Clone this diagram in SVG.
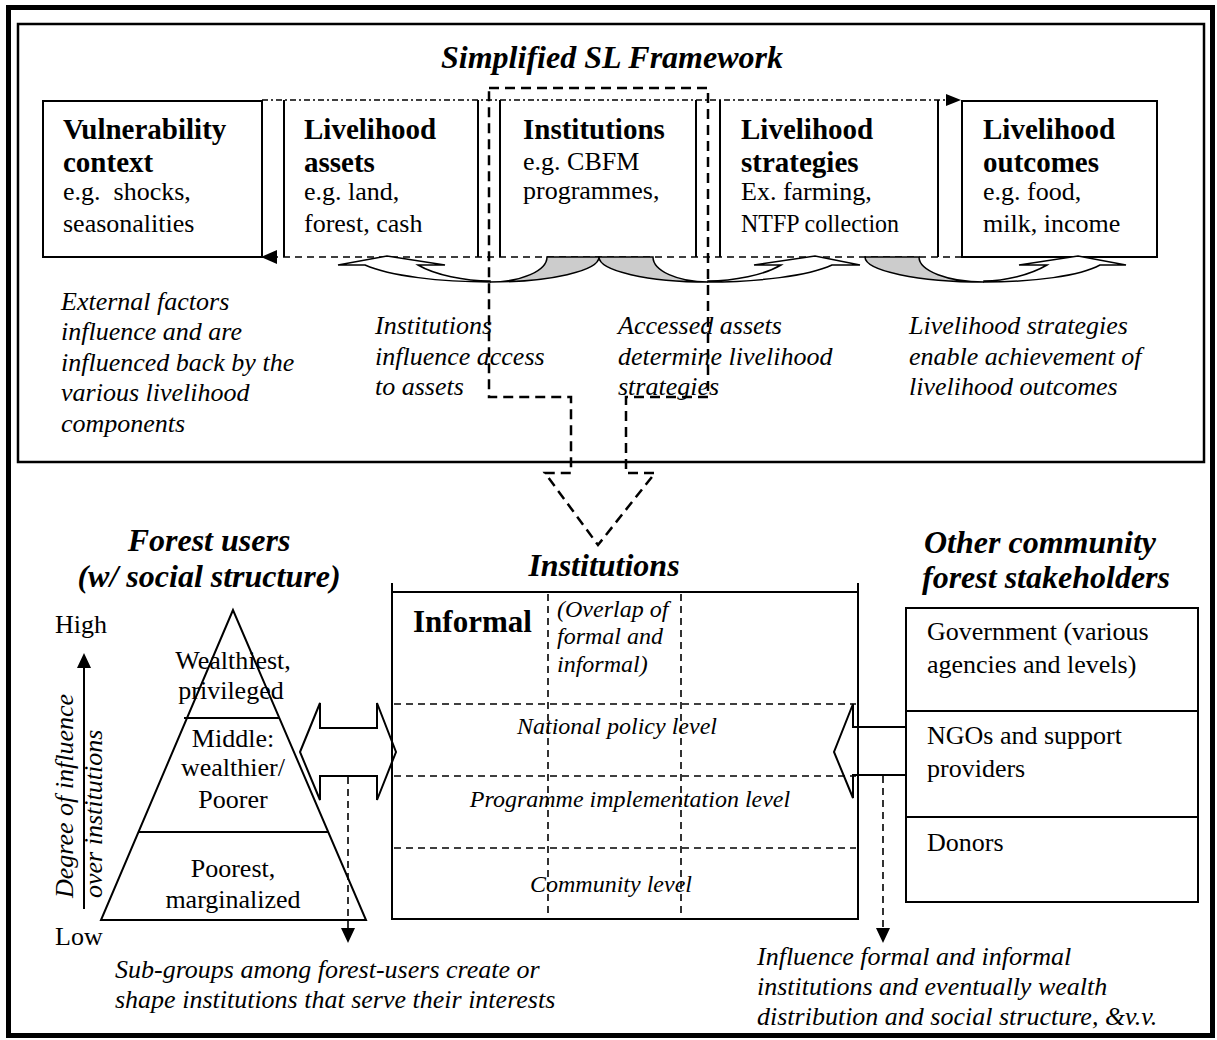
<svg xmlns="http://www.w3.org/2000/svg" width="1217" height="1040" viewBox="0 0 1217 1040">
<defs>
<style>
text{font-family:"Liberation Serif","Times New Roman",serif;fill:#000}
.bt{font-size:29px;font-weight:bold}
.r{font-size:26px}
.cap{font-size:26px;font-style:italic}
.h{font-size:32px;font-weight:bold;font-style:italic}
.lv{font-size:24px;font-style:italic}
.box{fill:#fff;stroke:#000;stroke-width:2}
.fill{fill:#fff;stroke:none}
.ln{fill:none;stroke:#000;stroke-width:2}
.dash{fill:none;stroke:#000;stroke-width:1.6;stroke-dasharray:7 5}
.dd{fill:none;stroke:#000;stroke-width:1.6;stroke-dasharray:6 3 2 3}
.hl{fill:none;stroke:#000;stroke-width:2.5;stroke-dasharray:10 6}
.cw{fill:#fff;stroke:#000;stroke-width:1.5;stroke-linejoin:miter}
.cg{fill:#cccccc;stroke:#000;stroke-width:1.5}
.blk{fill:none;stroke:#000;stroke-width:2;stroke-linejoin:miter}
.ah{fill:#000;stroke:none}
</style>
</defs>
<rect x="0" y="0" width="1217" height="1040" fill="#fff"/>
<g id="frame">
<rect x="8.5" y="7.5" width="1204" height="1028" fill="none" stroke="#000" stroke-width="5"/>
<rect x="18" y="24" width="1186" height="438" fill="none" stroke="#000" stroke-width="2.5"/>
<text class="h" x="612" y="68" text-anchor="middle">Simplified SL Framework</text>
</g>
<g id="vulnerability">
<rect class="box" x="43" y="101" width="219" height="156"/>
<text class="bt" x="63" y="139">Vulnerability</text>
<text class="bt" x="63" y="172">context</text>
<text class="r" x="63" y="200" xml:space="preserve">e.g.  shocks,</text>
<text class="r" x="63" y="232">seasonalities</text>
</g>
<g id="assets">
<rect class="fill" x="284" y="101" width="194" height="156"/>
<path class="ln" d="M284 100V257M478 100V257"/>
<text class="bt" x="304" y="139">Livelihood</text>
<text class="bt" x="304" y="172">assets</text>
<text class="r" x="304" y="200">e.g. land,</text>
<text class="r" x="304" y="232">forest, cash</text>
</g>
<g id="institutions-sl">
<rect class="fill" x="500" y="101" width="196" height="156"/>
<path class="ln" d="M500 100V257M696 100V257"/>
<text class="bt" x="523" y="139">Institutions</text>
<text class="r" x="523" y="170">e.g. CBFM</text>
<text class="r" x="523" y="199">programmes,</text>
</g>
<g id="strategies">
<rect class="fill" x="720" y="101" width="218" height="156"/>
<path class="ln" d="M720 100V257M938 100V257"/>
<text class="bt" x="741" y="139">Livelihood</text>
<text class="bt" x="741" y="172">strategies</text>
<text class="r" x="741" y="200">Ex. farming,</text>
<text class="r" x="741" y="232" textLength="158" lengthAdjust="spacingAndGlyphs">NTFP collection</text>
</g>
<g id="outcomes">
<rect class="box" x="962" y="101" width="195" height="156"/>
<text class="bt" x="983" y="139">Livelihood</text>
<text class="bt" x="983" y="172">outcomes</text>
<text class="r" x="983" y="200">e.g. food,</text>
<text class="r" x="983" y="232">milk, income</text>
</g>
<g id="captions-top">
<text class="cap" x="61" y="310">External factors</text>
<text class="cap" x="61" y="340">influence and are</text>
<text class="cap" x="61" y="371">influenced back by the</text>
<text class="cap" x="61" y="401">various livelihood</text>
<text class="cap" x="61" y="432">components</text>
<text class="cap" x="375" y="334">Institutions</text>
<text class="cap" x="375" y="365">influence access</text>
<text class="cap" x="375" y="395">to assets</text>
<text class="cap" x="618" y="334">Accessed assets</text>
<text class="cap" x="618" y="365">determine livelihood</text>
<text class="cap" x="618" y="395">strategies</text>
<text class="cap" x="909" y="334">Livelihood strategies</text>
<text class="cap" x="909" y="365">enable achievement of</text>
<text class="cap" x="909" y="395">livelihood outcomes</text>
</g>
<g id="forest-users">
<text class="h" x="209" y="551" text-anchor="middle">Forest users</text>
<text class="h" x="209" y="587" text-anchor="middle">(w/ social structure)</text>
<text class="r" x="55" y="633">High</text>
<text class="r" x="55" y="945">Low</text>
<text class="cap" transform="translate(73 898) rotate(-90)">Degree of influence</text>
<text class="cap" transform="translate(102 898) rotate(-90)">over institutions</text>
<polygon points="233,610 101,920 366,920" fill="#fff" stroke="#000" stroke-width="2"/>
<path class="ln" d="M184 718H279M138 832H329"/>
<text class="r" x="233" y="669" text-anchor="middle">Wealthiest,</text>
<text class="r" x="231" y="699" text-anchor="middle">privileged</text>
<text class="r" x="233" y="747" text-anchor="middle">Middle:</text>
<text class="r" x="233" y="776" text-anchor="middle">wealthier/</text>
<text class="r" x="233" y="808" text-anchor="middle">Poorer</text>
<text class="r" x="233" y="877" text-anchor="middle">Poorest,</text>
<text class="r" x="233" y="908" text-anchor="middle">marginalized</text>
<text class="cap" x="115" y="978">Sub-groups among forest-users create or</text>
<text class="cap" x="115" y="1008">shape institutions that serve their interests</text>
</g>
<g id="institutions">
<text class="h" x="604" y="576" text-anchor="middle">Institutions</text>
<path class="ln" d="M392 583V919H858V583M392 592H858"/>
<path class="dash" d="M548 594V918M681 594V918M394 704H856M394 776H856M394 848H856"/>
<text x="413" y="632" style="font-size:31px;font-weight:bold">Informal</text>
<text class="lv" x="557" y="617">(Overlap of</text>
<text class="lv" x="557" y="644">formal and</text>
<text class="lv" x="557" y="672">informal)</text>
<text class="lv" x="617" y="734" text-anchor="middle">National policy level</text>
<text class="lv" x="630" y="807" text-anchor="middle">Programme implementation level</text>
<text class="lv" x="611" y="892" text-anchor="middle">Community level</text>
</g>
<g id="stakeholders">
<text class="h" x="1040" y="553" text-anchor="middle">Other community</text>
<text class="h" x="1046" y="588" text-anchor="middle">forest stakeholders</text>
<rect class="box" x="906" y="608" width="292" height="294"/>
<path class="ln" d="M906 711H1198M906 817H1198"/>
<text class="r" x="927" y="640">Government (various</text>
<text class="r" x="927" y="673">agencies and levels)</text>
<text class="r" x="927" y="744">NGOs and support</text>
<text class="r" x="927" y="777">providers</text>
<text class="r" x="927" y="851">Donors</text>
<text class="cap" x="757" y="965">Influence formal and informal</text>
<text class="cap" x="757" y="995">institutions and eventually wealth</text>
<text class="cap" x="757" y="1025">distribution and social structure, &amp;v.v.</text>
</g>
<g id="connectors">
<path class="dd" d="M262 100H946"/>
<polygon class="ah" points="946,94 961,100 946,106"/>
<path class="dash" d="M962 257H277"/>
<polygon class="ah" points="277,250 261,257 277,264"/>
<path class="cg" d="M547 257A57 25 0 0 1 490 282A109 25 0 0 0 599 257Z"/>
<path class="cw" d="M490 282C440 282 390 276 365 265L338 265L387 256L445 265L418 265C435 275 465 281 490 281Z"/>
<path class="cg" d="M653 257A55 25 0 0 0 708 282A109 25 0 0 1 599 257Z"/>
<path class="cw" d="M708 282C758 282 808 276 832 265L860 265L815 256L754 265L781 265C764 275 734 281 708 281Z"/>
<path class="cg" d="M919 257A65 25 0 0 0 984 282A119 25 0 0 1 865 257Z"/>
<path class="cw" d="M984 282C1034 282 1080 276 1100 265L1126 265L1078 256L1019 265L1047 265C1030 275 1005 281 984 281Z"/>
<path class="hl" d="M489 88H708V397H626V473H655L598 545L545 473H571V397H489Z"/>
<path class="ln" d="M84 909V666"/>
<polygon class="ah" points="77,668 84,653 91,668"/>
<path class="blk" d="M300 752L320 703V728H377V703L396 752L377 800V776H320V800Z"/>
<path class="blk" d="M906 727H853V704L834 752L853 798V775H906"/>
<path class="dash" d="M348 777V928"/>
<polygon class="ah" points="341,928 348,943 355,928"/>
<path class="dash" d="M883 776V928"/>
<polygon class="ah" points="876,928 883,943 890,928"/>
</g>
</svg>
